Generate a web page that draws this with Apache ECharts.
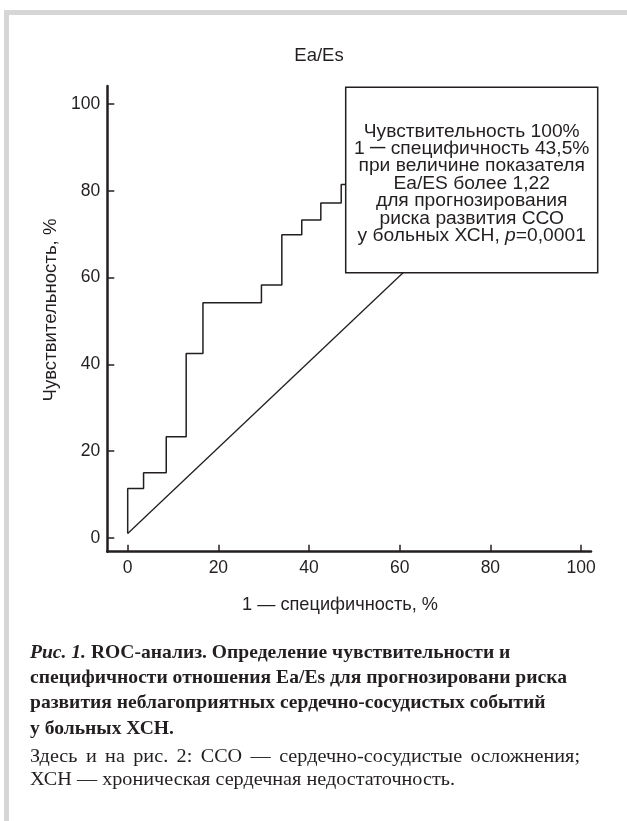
<!DOCTYPE html>
<html><head><meta charset="utf-8">
<script src="https://cdn.jsdelivr.net/npm/echarts@6/dist/echarts.min.js"></script>
<style>html,body{margin:0;padding:0;background:#fff}#c{width:627px;height:821px}</style>
</head><body><div id="c"></div>
<script>
// ---- data ----
const chartTitle = 'Ea/Es';
const xName = '1 — специфичность, %';
const yName = 'Чувствительность, %';
const tickValues = [0, 20, 40, 60, 80, 100];
// ROC step curve corners (1 - specificity, sensitivity), %
const rocFpr = [0, 0, 3.5, 8.5, 12.9, 16.6, 29.5, 34.0, 38.4, 42.6, 47.1, 49.0];
const rocTpr = [1, 11.4, 15.0, 23.3, 42.5, 54.2, 58.3, 69.9, 73.3, 77.2, 81.5, 81.5];
// reference diagonal
const diagFpr = [0, 100];
const diagTpr = [1, 100];
const boxLines = [
  'Чувствительность 100%',
  '1 {d|—} специфичность 43,5%',
  'при величине показателя',
  'Ea/ES более 1,22',
  'для прогнозирования',
  'риска развития ССО'
];
const boxLastLine = ['у больных ХСН, ', 'p', '=0,0001'];
const captionBold = [
  ['Рис. 1.', ' ROC-анализ. Определение чувствительности и'],
  ['', 'специфичности отношения Ea/Es для прогнозировани риска'],
  ['', 'развития неблагоприятных сердечно-сосудистых событий'],
  ['', 'у больных ХСН.']
];
const captionRegular = [
  'Здесь и на рис. 2: ССО — сердечно-сосудистые осложнения;',
  'ХСН — хроническая сердечная недостаточность.'
];

// ---- helpers ----
const mctx = document.createElement('canvas').getContext('2d');
function tw(text, font) { mctx.font = font; return mctx.measureText(text).width; }

const SANS = '"Liberation Sans", Arial, sans-serif';
const SERIF = '"Liberation Serif", "Times New Roman", serif';
const capSize = 19;
const fB = 'bold ' + capSize + 'px ' + SERIF;
const fBI = 'italic bold ' + capSize + 'px ' + SERIF;
const fR = capSize + 'px ' + SERIF;
const ink = '#231f20';

const capLeft = 30;
const boldCenters = [653, 678, 703, 729];
const regCenters = [757, 780];
const boldScale = 537 / tw(captionBold[1][1], fB);
const regScale = 425 / tw(captionRegular[1], fR);

const graphics = [];
// frame
graphics.push({type: 'rect', shape: {x: 4, y: 10, width: 623, height: 5}, style: {fill: '#d6d6d6'}, silent: true});
graphics.push({type: 'rect', shape: {x: 4, y: 10, width: 5, height: 811}, style: {fill: '#d6d6d6'}, silent: true});

// caption bold
captionBold.forEach((ln, i) => {
  const txt = (ln[0] ? '{bi|' + ln[0] + '}' : '') + '{b|' + ln[1] + '}';
  graphics.push({
    type: 'text', x: capLeft, y: boldCenters[i], scaleX: boldScale,
    style: {text: txt, x: 0, y: 0, align: 'left', verticalAlign: 'middle',
      rich: {bi: {font: fBI, fill: ink}, b: {font: fB, fill: ink}}}
  });
});
// caption regular: line 1 justified, line 2 plain
(function () {
  const words = captionRegular[0].split(' ');
  const widths = words.map(w => tw(w, fR) * regScale);
  const total = widths.reduce((a, b) => a + b, 0);
  const gap = (550 - total) / (words.length - 1);
  let x = capLeft;
  words.forEach((w, k) => {
    graphics.push({type: 'text', x: x, y: regCenters[0], scaleX: regScale,
      style: {text: w, x: 0, y: 0, font: fR, fill: ink, align: 'left', verticalAlign: 'middle'}});
    x += widths[k] + gap;
  });
  graphics.push({type: 'text', x: capLeft, y: regCenters[1], scaleX: regScale,
    style: {text: captionRegular[1], x: 0, y: 0, font: fR, fill: ink, align: 'left', verticalAlign: 'middle'}});
})();

// title and axis names
graphics.push({type: 'text', x: 319, y: 56,
  style: {text: chartTitle, font: '18.5px ' + SANS, fill: ink, align: 'center', verticalAlign: 'middle'}});
graphics.push({type: 'text', x: 340, y: 605,
  style: {text: xName, font: '18.2px ' + SANS, fill: ink, align: 'center', verticalAlign: 'middle'}});
graphics.push({type: 'text', x: 51, y: 310, rotation: Math.PI / 2,
  style: {text: yName, font: '18.6px ' + SANS, fill: ink, align: 'center', verticalAlign: 'middle'}});

// annotation box
graphics.push({type: 'rect', z: 100, shape: {x: 345.7, y: 87.3, width: 252, height: 185.4},
  style: {fill: '#fff', stroke: ink, lineWidth: 1.5}});
const boxFont = '17.5px ' + SANS;
const boxScale = 216 / tw(boxLines[0], boxFont);
const boxText = boxLines.join('\n') + '\n{n|' + boxLastLine[0] + '}{i|' + boxLastLine[1] + '}{n|' + boxLastLine[2] + '}';
graphics.push({type: 'text', z: 101, x: 471.7, y: 131.7 - 8.7, scaleX: boxScale,
  style: {text: boxText, x: 0, y: 0, font: boxFont, fill: ink, align: 'center', verticalAlign: 'top', lineHeight: 17.4,
    rich: {
      n: {font: boxFont, lineHeight: 17.4, fill: ink},
      i: {font: 'italic ' + boxFont, lineHeight: 17.4, fill: ink},
      d: {font: 'bold 14px ' + SANS, lineHeight: 17.4, fill: ink, padding: [0, 0, 1.5, 0]}
    }}});

const chart = echarts.init(document.getElementById('c'), null, {renderer: 'canvas'});
chart.setOption({
  backgroundColor: '#fff',
  animation: false,
  grid: {left: 107.3, top: 86, width: 483.7, height: 465.7, containLabel: false},
  xAxis: {
    type: 'value', min: -4.5, max: 102.2,
    axisLine: {show: true, onZero: false, lineStyle: {color: ink, width: 2.5}},
    axisTick: {show: true, inside: true, length: 7, customValues: tickValues, lineStyle: {color: ink, width: 1.5}},
    axisLabel: {customValues: tickValues, margin: 7, fontFamily: SANS, fontSize: 17.5, color: ink},
    splitLine: {show: false}
  },
  yAxis: {
    type: 'value', min: -3.2, max: 104.2,
    axisLine: {show: true, onZero: false, lineStyle: {color: ink, width: 2.5}},
    axisTick: {show: true, inside: true, length: 7, customValues: tickValues, lineStyle: {color: ink, width: 1.5}},
    axisLabel: {customValues: tickValues, margin: 7, fontFamily: SANS, fontSize: 17.5, color: ink},
    splitLine: {show: false}
  },
  series: [
    {type: 'line', data: diagFpr.map((v, i) => [v, diagTpr[i]]), showSymbol: false, symbol: 'none',
      lineStyle: {color: ink, width: 1.3}, z: 2},
    {type: 'line', step: 'end', data: rocFpr.map((v, i) => [v, rocTpr[i]]), showSymbol: false, symbol: 'none',
      lineStyle: {color: ink, width: 1.5}, z: 3}
  ],
  graphic: graphics
});
</script>
</body></html>
